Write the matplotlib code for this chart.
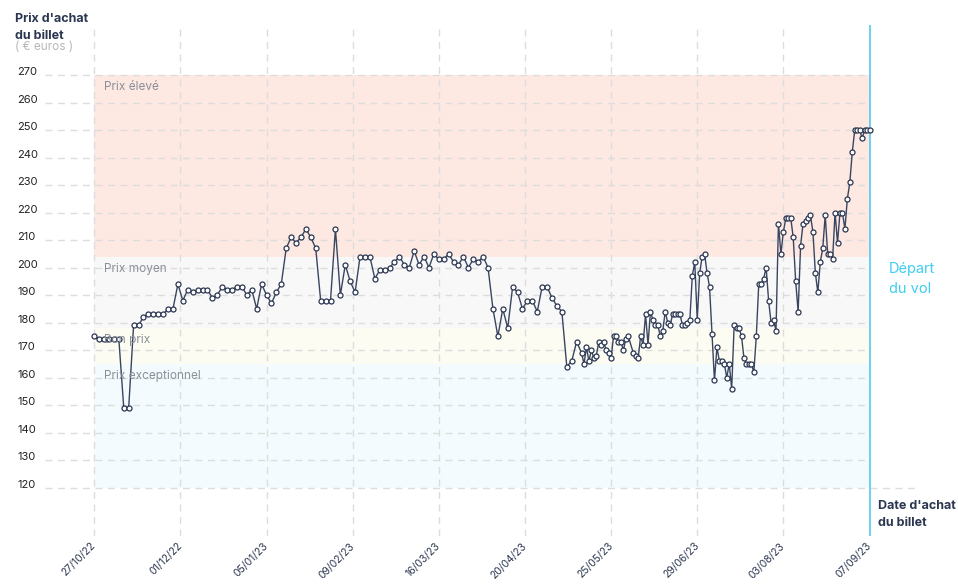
import pandas as pd
import matplotlib
matplotlib.use('Agg')
import matplotlib.pyplot as plt
from matplotlib import transforms

plt.rcParams['font.family'] = ['Inter', 'DejaVu Sans']

# Purchase dates: every 2 days until mid-May, then daily (one day missing)
start = pd.Timestamp('2022-10-27')
departure = pd.Timestamp('2023-09-07')
day_offsets = list(range(0, 199, 2)) + list(range(199, 218)) + list(range(219, 316))

prices = [
    175, 174, 174, 174, 174, 174, 149, 149, 179, 179, 182, 183, 183, 183, 183,
    185, 185, 194, 188, 192, 191, 192, 192, 192, 189, 190, 193, 192, 192, 193,
    193, 190, 192, 185, 194, 190, 187, 191, 194, 207, 211, 209, 211, 214, 211,
    207, 188, 188, 188, 214, 190, 201, 195, 191, 204, 204, 204,
    196, 199, 199, 200, 202, 204, 201, 200, 206, 201, 204, 200, 205, 203, 203,
    205, 202, 201, 204, 200, 203, 202, 204, 200, 185, 175, 185, 178, 193, 191,
    185, 188, 188, 184, 193, 193, 189, 186, 184, 164, 166, 173, 169,
    165, 171, 166, 170, 167, 168, 173, 172, 173, 170, 169, 167, 175, 175, 173,
    173, 170, 174, 175, 169, 168, 167,
    175, 172, 183, 172, 184, 181, 179, 179, 175, 177,
    184, 180, 179, 183, 183, 183, 183, 179, 179, 180,
    181, 197, 202, 181, 198, 204, 205, 198, 193, 176,
    159, 171, 166, 166, 165, 160, 165, 156, 179, 178,
    178, 175, 167, 165, 165, 165, 162, 175, 194, 194,
    196, 200, 188, 180, 181, 177, 216, 205, 213, 218,
    218, 218, 211, 195, 184, 208, 216, 217, 218, 219,
    213, 198, 191, 202, 207, 219, 205, 205, 203, 220,
    209, 220, 220, 214, 225, 231, 242, 250, 250, 250,
    247, 250, 250, 250,
]

tick_labels = ['27/10/22', '01/12/22', '05/01/23', '09/02/23', '16/03/23',
               '20/04/23', '25/05/23', '29/06/23', '03/08/23', '07/09/23']
y_ticks = list(range(120, 271, 10))

band_names = ['Prix élevé', 'Prix moyen', 'Bon prix', 'Prix exceptionnel']
band_tops = [270, 204, 178, 165]
band_bottoms = [204, 178, 165, 120]

dates = start + pd.to_timedelta(day_offsets, unit='D')
tick_dates = pd.to_datetime(tick_labels, format='%d/%m/%y')

navy = '#2b3650'
fig = plt.figure(figsize=(9.58, 5.85), dpi=100)
ax = fig.add_axes([45 / 958, 1 - 536 / 585, 873 / 958, 511 / 585])

x_left = start - pd.Timedelta(days=20)
x_right = start + pd.Timedelta(days=334.7)
ax.set_xlim(x_left, x_right)
ax.set_ylim(102.4, 288.2)

# Price bands
band_colors = ['#fde8e2', '#f8f8f8', '#fcfcf3', '#f3fbfe']
for name, top, bottom, col in zip(band_names, band_tops, band_bottoms, band_colors):
    ax.fill_between([start, departure], bottom, top, color=col, lw=0, zorder=0)
    ax.text(start + pd.Timedelta(days=4), top - 2.3, name, color='#8a8f99',
            fontsize=8.5, va='top', ha='left', zorder=4)

# Grid
for y in y_ticks:
    end = x_right if y == y_ticks[0] else departure
    ax.hlines(y, x_left, end, colors='#dddddd', lw=1, linestyles=(0, (5, 4)), zorder=1)
for d in tick_dates[:-1]:
    ax.axvline(d, color='#dddddd', lw=1, ls=(0, (5, 4)), zorder=1)
ax.axvline(departure, color='#55c8ef', lw=1.2, zorder=2)

# Price line
ax.plot(dates, prices, color='#3a4560', lw=1, marker='o', ms=3.6,
        mfc='white', mec=navy, mew=0.9, zorder=3)

# Axes styling
for s in ax.spines.values():
    s.set_visible(False)
ax.set_yticks([])
ax.set_xticks(tick_dates)
ax.set_xticklabels(tick_labels, rotation=45, ha='right', va='center',
                   rotation_mode='anchor', color=navy, fontsize=7.5)
ax.tick_params(axis='x', length=0, pad=6)

trans = transforms.blended_transform_factory(fig.transFigure, ax.transData)
for y in y_ticks:
    ax.text(17 / 958, y + 1.1, str(y), transform=trans, ha='left', va='center',
            fontsize=8, color='#222222')

fig.text(15 / 958, 1 - 13 / 585, "Prix d'achat\ndu billet", fontsize=9,
         fontweight='bold', color=navy, va='top', ha='left', linespacing=1.55)
fig.text(15 / 958, 1 - 41 / 585, "( € euros )", fontsize=8.5, color='#b8b8b8',
         va='top', ha='left')
fig.text(889 / 958, 1 - 262 / 585, "Départ\ndu vol", fontsize=10.5, color='#3fcdf0',
         va='top', ha='left', linespacing=1.55)
fig.text(878 / 958, 1 - 500 / 585, "Date d'achat\ndu billet", fontsize=9,
         fontweight='bold', color=navy, va='top', ha='left', linespacing=1.55)

fig.savefig('out.png', dpi=100)
